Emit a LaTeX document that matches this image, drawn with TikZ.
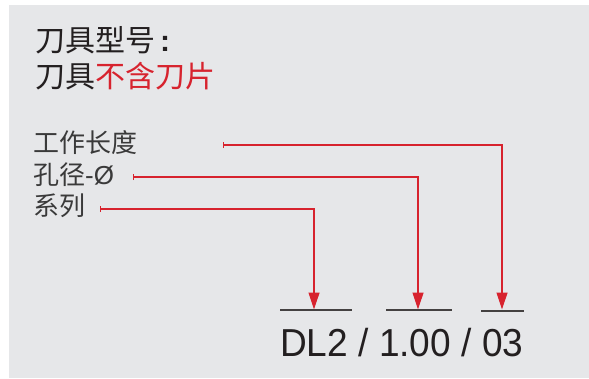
\documentclass[tikz,border=0pt]{standalone}
\usepackage{fontspec}
\setmainfont{Liberation Sans}
\newfontfamily\cjk{Noto Sans CJK SC}
\usetikzlibrary{arrows.meta}
\definecolor{bg}{HTML}{E6E7E9}
\definecolor{ink}{HTML}{231F20}
\definecolor{lab}{HTML}{3A3A3A}
\definecolor{accent}{HTML}{D7232E}
\tikzset{
  titletext/.style={anchor=west, inner sep=0pt, text=ink, font=\fontsize{30}{35}\selectfont\cjk},
  labeltext/.style={anchor=west, inner sep=0pt, text=lab, font=\fontsize{26}{31}\selectfont\cjk},
  codetext/.style={anchor=base west, inner sep=0pt, text=ink, font=\fontsize{39}{44}\selectfont, xscale=0.95},
  conn/.style={draw=accent, line width=1.2pt, {Bar[width=6pt,line width=1.2pt]}-{Triangle[length=17pt,width=11pt]}},
  slot/.style={draw=ink!85, line width=1.5pt}
}
\begin{document}
\begin{tikzpicture}[x=1pt,y=-1pt]
\useasboundingbox (0,0) rectangle (589,378);
\fill[bg] (9,5) rectangle (589,378);
% title
\node[titletext] (t1) at (35,40) {刀具型号{\fontspec{Liberation Sans}\bfseries\,:}};
\node[titletext] (t2) at (35,76.5) {刀具\textcolor{accent}{不含刀片}};
% labels
\node[labeltext] (l1) at (33,143) {工作长度};
\node[labeltext] (l2) at (33,175) {孔径{\fontspec{Liberation Sans}-Ø}};
\node[labeltext] (l3) at (33,206) {系列};
% connector start points
\coordinate (s1) at (223,145);
\coordinate (s2) at (133,177);
\coordinate (s3) at (100,209);
% arrow tips
\coordinate (e1) at (314,309.5);
\coordinate (e2) at (418,309.5);
\coordinate (e3) at (502,309.5);
% slots
\draw[slot] (280,310) -- (352,310);
\draw[slot] (386,310) -- (452,310);
\draw[slot] (481,311) -- (524,311);
% connectors
\draw[conn] (s1) -| (e3);
\draw[conn] (s2) -| (e2);
\draw[conn] (s3) -| (e1);
% code
\node[codetext] (code) at (280,356) {DL2 / 1.00 / 03};
\end{tikzpicture}
\end{document}
